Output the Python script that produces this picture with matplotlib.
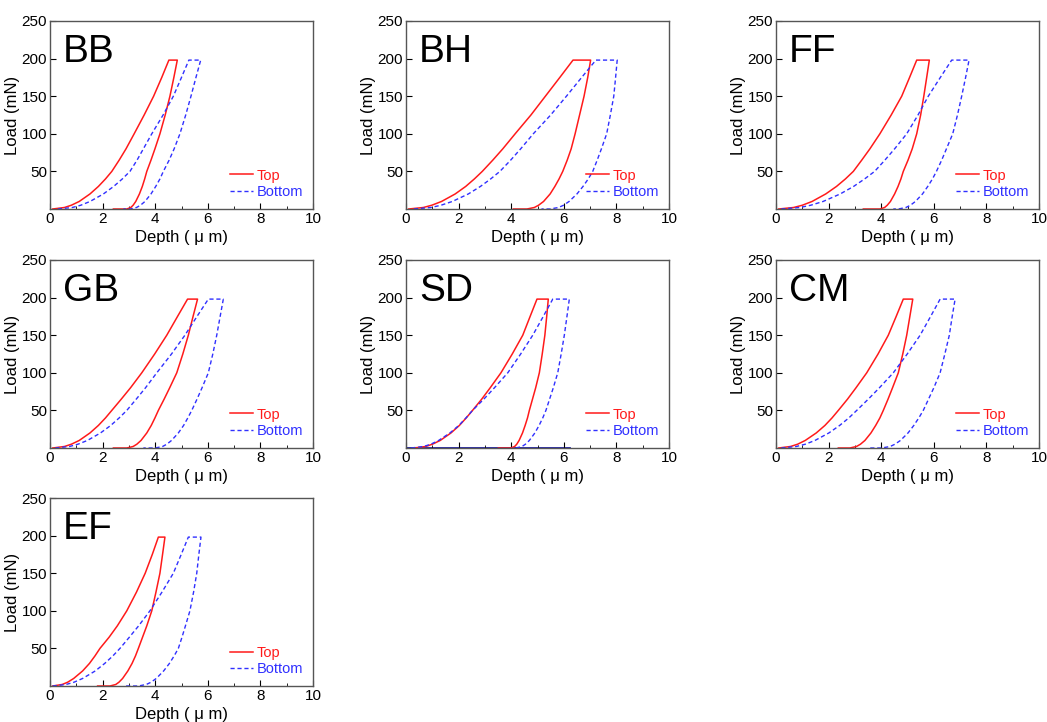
import matplotlib.pyplot as plt

plt.rcParams['font.family'] = ['Liberation Sans', 'DejaVu Sans']

loads = [0, 2, 5, 10, 20, 30, 40, 50, 65, 80, 100, 125, 150, 175, 198]

samples = ['BB', 'BH', 'FF', 'GB', 'SD', 'CM', 'EF']

# depth (um) on the loading branch of the Top curve
top_load = {
    'BB': [0.1, 0.55, 0.81, 1.11, 1.52, 1.84, 2.11, 2.35, 2.63, 2.89, 3.20, 3.58, 3.94, 4.25, 4.52],
    'BH': [0.1, 0.66, 0.98, 1.35, 1.87, 2.27, 2.60, 2.90, 3.30, 3.68, 4.15, 4.75, 5.30, 5.85, 6.35],
    'FF': [0.1, 0.67, 1.00, 1.37, 1.89, 2.30, 2.64, 2.94, 3.26, 3.57, 3.95, 4.38, 4.78, 5.08, 5.35],
    'GB': [0.1, 0.55, 0.81, 1.11, 1.52, 1.84, 2.11, 2.35, 2.71, 3.06, 3.49, 3.98, 4.44, 4.85, 5.23],
    'SD': [0.3, 0.75, 1.00, 1.30, 1.71, 2.03, 2.29, 2.53, 2.88, 3.20, 3.61, 4.04, 4.44, 4.72, 4.98],
    'CM': [0.1, 0.55, 0.82, 1.11, 1.53, 1.86, 2.13, 2.37, 2.72, 3.04, 3.45, 3.88, 4.27, 4.57, 4.84],
    'EF': [0.1, 0.46, 0.67, 0.90, 1.24, 1.50, 1.71, 1.90, 2.25, 2.56, 2.92, 3.29, 3.62, 3.89, 4.12],
}
# depth (um) on the unloading branch of the Top curve
top_unload = {
    'BB': [2.92, 3.07, 3.16, 3.26, 3.40, 3.51, 3.60, 3.68, 3.84, 3.99, 4.18, 4.38, 4.56, 4.71, 4.84],
    'BH': [4.60, 4.88, 5.04, 5.23, 5.48, 5.66, 5.82, 5.96, 6.13, 6.28, 6.43, 6.60, 6.77, 6.91, 7.02],
    'FF': [3.95, 4.13, 4.23, 4.35, 4.51, 4.64, 4.75, 4.84, 5.02, 5.18, 5.35, 5.50, 5.62, 5.73, 5.83],
    'GB': [2.92, 3.16, 3.30, 3.46, 3.68, 3.85, 3.99, 4.12, 4.34, 4.55, 4.82, 5.05, 5.26, 5.44, 5.61],
    'SD': [3.99, 4.13, 4.21, 4.30, 4.43, 4.53, 4.62, 4.69, 4.81, 4.93, 5.07, 5.18, 5.28, 5.35, 5.41],
    'CM': [2.81, 3.06, 3.21, 3.38, 3.61, 3.79, 3.95, 4.08, 4.26, 4.43, 4.65, 4.82, 4.97, 5.09, 5.20],
    'EF': [2.28, 2.50, 2.62, 2.76, 2.96, 3.12, 3.25, 3.36, 3.52, 3.68, 3.87, 4.03, 4.18, 4.28, 4.37],
}
# depth where the zero-load trace after unloading starts
top_tail = {'BB': 2.41, 'BH': 4.08, 'FF': 3.32, 'GB': 2.41, 'SD': 3.51, 'CM': 2.37, 'EF': 1.81}

bot_load = {
    'BB': [0.3, 0.85, 1.17, 1.52, 2.03, 2.42, 2.75, 3.04, 3.31, 3.55, 3.87, 4.30, 4.69, 5.00, 5.28],
    'BH': [0.3, 0.95, 1.33, 1.76, 2.37, 2.83, 3.22, 3.57, 3.98, 4.36, 4.84, 5.50, 6.10, 6.68, 7.22],
    'FF': [0.2, 0.91, 1.32, 1.79, 2.44, 2.95, 3.37, 3.75, 4.14, 4.51, 4.97, 5.40, 5.79, 6.25, 6.68],
    'GB': [0.2, 0.74, 1.06, 1.42, 1.92, 2.31, 2.63, 2.92, 3.28, 3.63, 4.06, 4.62, 5.13, 5.59, 6.02],
    'SD': [0.2, 0.67, 0.94, 1.24, 1.67, 2.01, 2.28, 2.53, 2.96, 3.36, 3.87, 4.36, 4.82, 5.22, 5.58],
    'CM': [0.2, 0.77, 1.11, 1.48, 2.01, 2.42, 2.77, 3.07, 3.51, 3.93, 4.46, 4.99, 5.48, 5.88, 6.24],
    'EF': [0.1, 0.61, 0.91, 1.24, 1.72, 2.08, 2.39, 2.66, 3.02, 3.37, 3.80, 4.26, 4.69, 4.99, 5.26],
}
bot_unload = {
    'BB': [3.04, 3.29, 3.44, 3.61, 3.84, 4.02, 4.18, 4.31, 4.53, 4.72, 4.94, 5.16, 5.36, 5.55, 5.73],
    'BH': [5.47, 5.80, 5.99, 6.20, 6.50, 6.73, 6.93, 7.10, 7.27, 7.43, 7.63, 7.77, 7.90, 7.97, 8.03],
    'FF': [4.65, 4.94, 5.11, 5.30, 5.57, 5.77, 5.95, 6.10, 6.30, 6.48, 6.72, 6.90, 7.06, 7.21, 7.34],
    'GB': [4.00, 4.28, 4.44, 4.62, 4.88, 5.08, 5.24, 5.39, 5.59, 5.78, 6.02, 6.19, 6.34, 6.47, 6.59],
    'SD': [4.18, 4.41, 4.54, 4.69, 4.90, 5.06, 5.20, 5.32, 5.46, 5.60, 5.77, 5.90, 6.02, 6.12, 6.21],
    'CM': [4.02, 4.34, 4.52, 4.73, 5.02, 5.24, 5.43, 5.60, 5.80, 6.00, 6.24, 6.42, 6.59, 6.70, 6.81],
    'EF': [3.36, 3.66, 3.84, 4.04, 4.32, 4.54, 4.72, 4.88, 5.02, 5.15, 5.32, 5.46, 5.58, 5.66, 5.74],
}
bot_tail = {'BB': 2.79, 'BH': 5.15, 'FF': 4.46, 'GB': 3.55, 'SD': 4.05, 'CM': 3.51, 'EF': 2.79}

# SD panel has a solid baseline trace along zero load
sd_baseline = [0.0, 6.21]

x_ticks = [0, 2, 4, 6, 8, 10]
y_ticks = [50, 100, 150, 200, 250]

# axes placement in pixels (left, top) for a 1047x722 figure
col_left = [50, 406, 776]
row_top = [21, 260, 498]
ax_w, ax_h = 263, 188
W, H = 1047, 722


def loop(load_d, unload_d, tail):
    # loading -> hold at max load -> unloading -> zero-load trace
    xs = list(load_d) + list(reversed(unload_d)) + [tail]
    ys = list(loads) + list(reversed(loads)) + [0]
    return xs, ys


fig = plt.figure(figsize=(W / 100, H / 100), dpi=100)

for i, name in enumerate(samples):
    r, c = divmod(i, 3)
    ax = fig.add_axes([col_left[c] / W, 1 - (row_top[r] + ax_h) / H, ax_w / W, ax_h / H])

    if name == 'SD':
        ax.plot(sd_baseline, [0, 0], color='#1a1aa0', lw=2.0, zorder=1)

    xs, ys = loop(top_load[name], top_unload[name], top_tail[name])
    ax.plot(xs, ys, color='#ff1a1a', lw=1.1, label='Top')
    xs, ys = loop(bot_load[name], bot_unload[name], bot_tail[name])
    ax.plot(xs, ys, color='#3030ff', lw=1.0, ls=(0, (3, 2)), label='Bottom')

    ax.set_xlim(0, 10)
    ax.set_ylim(0, 250)
    ax.set_xticks(x_ticks)
    ax.set_xticks([1, 3, 5, 7, 9], minor=True)
    ax.set_yticks(y_ticks)
    ax.tick_params(which='both', direction='in', labelsize=11, pad=2)
    ax.tick_params(which='major', length=4)
    ax.tick_params(which='minor', length=2.5)
    for s in ax.spines.values():
        s.set_color('#555555')
        s.set_linewidth(1.0)

    ax.set_xlabel('Depth ( \u03bc m)', fontsize=12, labelpad=3)
    ax.set_ylabel('Load (mN)', fontsize=12, labelpad=1)
    ax.text(0.05, 0.93, name, transform=ax.transAxes, fontsize=28, va='top', ha='left')

    ax.legend(loc='lower right', frameon=False, fontsize=10.5, handlelength=1.6,
              handletextpad=0.2, labelspacing=0.15, borderaxespad=0.3,
              labelcolor='linecolor', bbox_to_anchor=(1.0, 0.0))

fig.savefig('out.png', dpi=100)
